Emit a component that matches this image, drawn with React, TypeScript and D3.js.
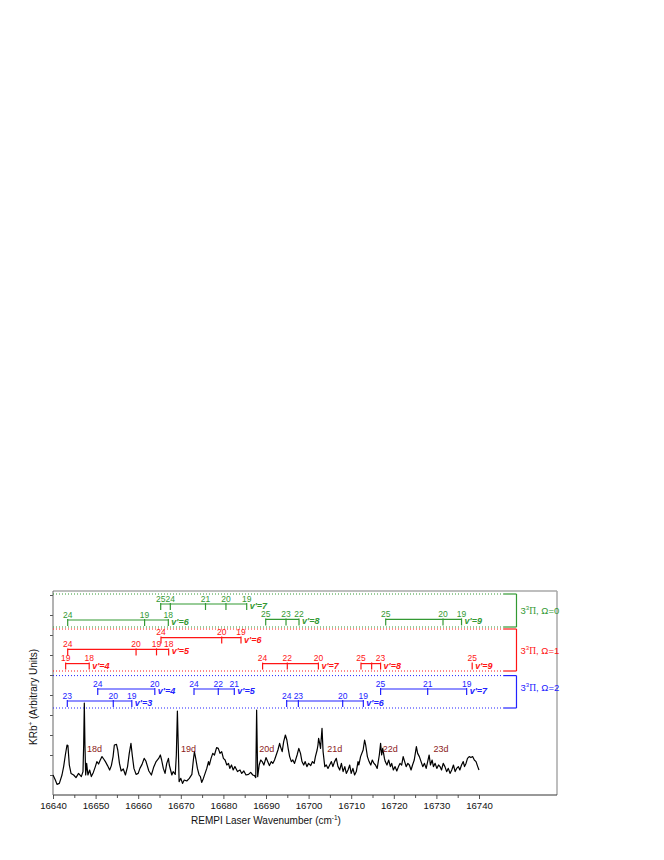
import React, { useRef, useEffect } from "react";
import { select, scaleLinear, line, axisBottom, axisLeft } from "d3";

const FONT = "Arial, 'Liberation Sans', sans-serif";

// axis ticks
const xMinorTicks = [16645, 16655, 16665, 16675, 16685, 16695, 16705, 16715, 16725, 16735];
const xMajorTicks = [16640, 16650, 16660, 16670, 16680, 16690, 16700, 16710, 16720, 16730, 16740];
const yTicks = [1, 2, 3, 4, 5, 6, 7, 8, 9, 10];

// REMPI trace: [wavenumber, signal]
const spectrum: [number, number][] = [
  [16640.0, 1.0], [16640.55, 0.75], [16640.94, 0.53], [16641.49, 0.58], [16642.11, 1.0], [16642.5, 1.42], [16642.9, 2.0], [16643.29, 2.5], [16643.5, 2.47], [16643.83, 1.5],
  [16644.23, 1.08], [16644.85, 1.0], [16645.4, 0.87], [16646.0, 1.08], [16646.65, 0.92], [16647.04, 1.17], [16647.2, 2.5], [16647.35, 4.6], [16647.5, 2.5], [16647.67, 1.0],
  [16647.9, 1.58], [16648.2, 1.0], [16648.6, 1.25], [16649.0, 0.92], [16649.47, 1.13], [16649.94, 1.42], [16650.3, 1.67], [16650.7, 1.55], [16651.1, 1.75], [16651.5, 1.92],
  [16651.9, 1.8], [16652.3, 1.67], [16652.8, 1.47], [16653.3, 1.25], [16653.7, 1.47], [16654.1, 1.92], [16654.4, 2.5], [16654.9, 2.53], [16655.2, 2.25], [16655.6, 1.58],
  [16656.0, 1.2], [16656.5, 1.3], [16657.0, 1.0], [16657.5, 1.42], [16657.9, 2.08], [16658.3, 2.58], [16658.6, 2.0], [16659.0, 1.33], [16659.5, 1.03], [16660.0, 1.08],
  [16660.4, 1.33], [16660.9, 1.53], [16661.4, 1.83], [16661.8, 1.7], [16662.5, 1.2], [16663.1, 1.0], [16663.6, 1.37], [16664.2, 1.67], [16664.8, 1.83], [16665.2, 2.0],
  [16665.5, 1.75], [16665.9, 1.33], [16666.3, 1.08], [16666.7, 1.58], [16667.1, 1.83], [16667.3, 1.5], [16667.9, 1.0], [16668.2, 1.17], [16668.7, 1.03], [16668.95, 2.0],
  [16669.2, 4.2], [16669.4, 2.5], [16669.6, 0.67], [16670.0, 0.83], [16670.4, 0.58], [16670.8, 0.75], [16671.4, 0.7], [16672.0, 0.83], [16672.6, 1.03], [16672.95, 1.75],
  [16673.2, 2.17], [16673.5, 1.83], [16673.9, 1.33], [16674.3, 1.0], [16674.6, 0.92], [16674.9, 0.63], [16675.3, 0.83], [16675.7, 1.08], [16676.1, 1.33], [16676.5, 1.67],
  [16676.7, 1.5], [16677.1, 1.83], [16677.5, 2.08], [16677.9, 2.0], [16678.4, 2.37], [16678.8, 2.33], [16679.2, 2.08], [16679.6, 2.17], [16680.0, 1.83], [16680.4, 1.75],
  [16680.8, 1.5], [16681.2, 1.58], [16681.5, 1.33], [16681.9, 1.5], [16682.3, 1.25], [16682.7, 1.42], [16683.3, 1.17], [16683.9, 1.25], [16684.3, 1.08], [16684.8, 1.2],
  [16685.3, 1.0], [16685.9, 1.03], [16686.4, 1.13], [16686.9, 1.0], [16687.3, 0.97], [16687.6, 0.87], [16687.8, 4.25], [16688.05, 0.92], [16688.4, 1.5], [16688.75, 1.75],
  [16689.1, 1.67], [16689.5, 1.5], [16690.0, 1.87], [16690.4, 1.67], [16690.8, 1.47],
  [16691.25, 1.67], [16691.6, 1.58], [16692.0, 1.75], [16692.4, 2.0], [16692.8, 2.25], [16693.2, 2.58], [16693.4, 2.42], [16693.8, 2.17], [16694.15, 2.67], [16694.55, 3.0],
  [16694.9, 2.75], [16695.2, 2.33], [16695.55, 1.92], [16695.95, 1.67], [16696.3, 1.75], [16696.7, 1.58], [16697.3, 2.0], [16697.7, 2.33], [16698.1, 2.08], [16698.45, 1.67],
  [16698.85, 1.5], [16699.2, 1.67], [16699.6, 1.42], [16700.0, 1.58], [16700.5, 1.47], [16700.9, 1.67], [16701.3, 1.58], [16701.6, 1.92], [16702.0, 2.25], [16702.2, 2.5],
  [16702.35, 2.83], [16702.6, 2.58], [16702.8, 2.33], [16703.15, 3.33], [16703.4, 2.17], [16703.8, 1.42], [16704.15, 1.5], [16704.55, 1.33], [16704.95, 1.5], [16705.35, 1.67],
  [16705.7, 1.42], [16706.1, 1.67], [16706.5, 1.83], [16706.9, 1.42], [16707.3, 1.25], [16707.7, 1.58], [16708.1, 1.17], [16708.5, 1.42], [16708.85, 1.08], [16709.25, 1.25],
  [16709.65, 1.5], [16710.0, 1.08], [16710.4, 1.33], [16710.8, 1.0], [16711.2, 1.17], [16711.6, 1.67], [16711.8, 1.5], [16712.2, 1.92], [16712.8, 2.25], [16713.15, 2.75],
  [16713.4, 2.5], [16713.8, 1.92], [16714.2, 1.67], [16714.6, 1.5], [16714.95, 1.75], [16715.35, 1.58], [16715.7, 1.5], [16716.1, 1.33],
  [16716.6, 2.0], [16716.9, 2.58], [16717.15, 2.0], [16717.4, 2.33], [16717.8, 1.83], [16718.0, 1.67], [16718.4, 1.5], [16718.8, 1.75], [16719.2, 1.42], [16719.5, 1.58],
  [16719.9, 1.25], [16720.3, 1.42], [16720.7, 1.2], [16721.1, 1.42], [16721.45, 1.58], [16721.85, 1.5], [16722.2, 1.92], [16722.55, 1.67], [16722.9, 1.42], [16723.3, 1.58],
  [16723.65, 1.5], [16724.05, 1.25], [16724.4, 1.5], [16724.8, 1.75], [16725.05, 2.08], [16725.3, 2.42], [16725.6, 2.08], [16726.0, 1.92], [16726.4, 1.67], [16726.8, 1.42],
  [16727.2, 1.58], [16727.6, 1.33], [16727.95, 1.67], [16728.3, 2.0], [16728.6, 1.5], [16729.0, 1.75], [16729.3, 1.42], [16729.7, 1.58], [16730.1, 1.33], [16730.5, 1.5],
  [16730.85, 1.42], [16731.2, 1.25], [16731.6, 1.58], [16732.0, 1.42], [16732.4, 1.17], [16732.8, 1.33], [16733.2, 1.08], [16733.6, 1.25], [16734.0, 1.5], [16734.4, 1.17],
  [16734.75, 1.33], [16735.15, 1.42], [16735.5, 1.25], [16735.9, 1.5], [16736.3, 1.67], [16736.6, 1.42], [16736.95, 1.58], [16737.3, 1.83], [16737.7, 1.92], [16738.1, 1.87],
  [16738.5, 1.92], [16738.9, 1.75], [16739.3, 1.67], [16739.7, 1.42], [16740.0, 1.25],
];

// atomic / dimer line labels
const dimerLabels = ["18d", "19d", "20d", "21d", "22d", "23d"];
const dimerWn = [16648.0, 16670.05, 16688.4, 16704.4, 16717.4, 16729.3];
const dimerLevel = 2.15;

// electronic state groups
const groupOmega = [0, 1, 2];
const groupColors = ["#339933", "#ff1414", "#2222ff"];
const groupTop = [10.05, 8.3, 5.97];
const groupBottom = [8.4, 6.2, 4.35];
const groupLabelLevel = [9.25, 7.25, 5.4];
const dottedEnd = 16745.7;
const bracketWn = 16748.8;

// vibrational progressions (v', level, line positions, lower-level labels)
const omega0Bands = [
  { v: 6, level: 8.75, wn: [16643.45, 16661.5, 16667.07], labels: ["24", "19", "18"] },
  { v: 7, level: 9.55, wn: [16665.28, 16667.54, 16675.8, 16680.6, 16685.47], labels: ["25", "24", "21", "20", "19"] },
  { v: 8, level: 8.78, wn: [16689.93, 16694.7, 16697.75], labels: ["25", "23", "22"] },
  { v: 9, level: 8.78, wn: [16718.1, 16731.55, 16735.9], labels: ["25", "20", "19"] },
];
const omega1Bands = [
  { v: 4, level: 6.57, wn: [16642.97, 16648.5], labels: ["19", "18"] },
  { v: 5, level: 7.28, wn: [16643.45, 16659.5, 16664.3, 16667.15], labels: ["24", "20", "19", "18"] },
  { v: 6, level: 7.87, wn: [16665.35, 16679.6, 16684.13], labels: ["24", "20", "19"] },
  { v: 7, level: 6.57, wn: [16689.2, 16695.0, 16702.3], labels: ["24", "22", "20"] },
  { v: 8, level: 6.57, wn: [16712.3, 16714.8, 16716.9], labels: ["25", "", "23"] },
  { v: 9, level: 6.57, wn: [16738.4], labels: ["25"] },
];
const omega2Bands = [
  { v: 3, level: 4.7, wn: [16643.36, 16654.15, 16658.5], labels: ["23", "20", "19"] },
  { v: 4, level: 5.3, wn: [16650.5, 16663.9], labels: ["24", "20"] },
  { v: 5, level: 5.3, wn: [16673.1, 16678.8, 16682.56], labels: ["24", "22", "21"] },
  { v: 6, level: 4.7, wn: [16694.85, 16697.6, 16708.0, 16712.85], labels: ["24", "23", "20", "19"] },
  { v: 7, level: 5.3, wn: [16716.9, 16727.95, 16737.1], labels: ["25", "21", "19"] },
];
const groupBands = [omega0Bands, omega1Bands, omega2Bands];

function RempiChart() {
  const svgRef = useRef<SVGSVGElement>(null);

  useEffect(() => {
    const svg = select(svgRef.current);
    svg.selectAll("*").remove();

    const left = 53;
    const right = 557;
    const top = 591;
    const bottom = 795;

    const xScale = scaleLinear().domain([16640, 16740]).range([left, 479]);
    const yScale = scaleLinear().domain([0, 10.2]).range([bottom, top]);

    // frame
    svg.append("line").attr("x1", left).attr("x2", right).attr("y1", top).attr("y2", top)
      .attr("stroke", "#a8a8a8").attr("stroke-width", 1.5);
    svg.append("line").attr("x1", right).attr("x2", right).attr("y1", top).attr("y2", bottom)
      .attr("stroke", "#a8a8a8").attr("stroke-width", 1.5);

    // axes
    const xMinor = svg.append("g").attr("transform", `translate(0, ${bottom})`)
      .call(axisBottom(xScale).tickValues(xMinorTicks).tickSize(3).tickSizeOuter(0).tickFormat(() => ""));
    const xMajor = svg.append("g").attr("transform", `translate(0, ${bottom})`)
      .call(axisBottom(xScale).tickValues(xMajorTicks).tickSize(4).tickSizeOuter(0).tickFormat((d) => String(d)));
    const yAx = svg.append("g").attr("transform", `translate(${left}, 0)`)
      .call(axisLeft(yScale).tickValues(yTicks).tickSize(3).tickSizeOuter(0).tickFormat(() => ""));
    [xMinor, xMajor, yAx].forEach((g) => {
      g.select(".domain").remove();
      g.selectAll(".tick line").attr("stroke", "#555");
    });
    xMajor.selectAll(".tick text").attr("font-family", FONT).attr("font-size", 9.6).attr("fill", "#111");

    svg.append("line").attr("x1", left).attr("x2", right).attr("y1", bottom).attr("y2", bottom)
      .attr("stroke", "#333").attr("stroke-width", 1);
    svg.append("line").attr("x1", left).attr("x2", left).attr("y1", top).attr("y2", bottom)
      .attr("stroke", "#666").attr("stroke-width", 1);

    // axis titles
    const xt = svg.append("text").attr("x", (xScale(16640) + xScale(16740)) / 2).attr("y", 824)
      .attr("text-anchor", "middle").attr("font-family", FONT).attr("font-size", 10).attr("fill", "#111");
    xt.append("tspan").text("REMPI Laser Wavenumber (cm");
    xt.append("tspan").attr("dy", -4).attr("font-size", 6.5).text("-1");
    xt.append("tspan").attr("dy", 4).text(")");

    const yt = svg.append("text").attr("transform", `translate(37, 697) rotate(-90)`)
      .attr("text-anchor", "middle").attr("font-family", FONT).attr("font-size", 10).attr("fill", "#111");
    yt.append("tspan").text("KRb");
    yt.append("tspan").attr("dy", -4).attr("font-size", 6.5).text("+");
    yt.append("tspan").attr("dy", 4).text(" (Arbitrary Units)");

    // spectrum
    const lineGenerator = line<[number, number]>()
      .x((d) => xScale(d[0]))
      .y((d) => yScale(d[1]));
    svg.append("path").datum(spectrum).attr("d", lineGenerator)
      .attr("fill", "none").attr("stroke", "#000").attr("stroke-width", 1.2).attr("stroke-linejoin", "round");

    // dimer labels
    svg.selectAll(".dimer").data(dimerLabels).join("text").attr("class", "dimer")
      .attr("x", (d, i) => xScale(dimerWn[i])).attr("y", yScale(dimerLevel))
      .attr("font-family", FONT).attr("font-size", 9).attr("fill", "#8b1a1a").text((d) => d);

    // state groups
    groupOmega.forEach((omega, gi) => {
      const color = groupColors[gi];
      const g = svg.append("g");
      [groupTop[gi], groupBottom[gi]].forEach((lv) => {
        g.append("line").attr("x1", xScale(16640)).attr("x2", xScale(dottedEnd))
          .attr("y1", yScale(lv)).attr("y2", yScale(lv))
          .attr("stroke", color).attr("stroke-width", 1).attr("stroke-dasharray", "1,2");
        g.append("line").attr("x1", xScale(dottedEnd)).attr("x2", xScale(bracketWn))
          .attr("y1", yScale(lv)).attr("y2", yScale(lv))
          .attr("stroke", color).attr("stroke-width", 1.2);
      });
      g.append("line").attr("x1", xScale(bracketWn)).attr("x2", xScale(bracketWn))
        .attr("y1", yScale(groupTop[gi])).attr("y2", yScale(groupBottom[gi]))
        .attr("stroke", color).attr("stroke-width", 1.2);
      const lbl = g.append("text").attr("x", xScale(bracketWn) + 4).attr("y", yScale(groupLabelLevel[gi]) + 3.5)
        .attr("font-family", FONT).attr("font-size", 9.5).attr("fill", color);
      lbl.append("tspan").text("3");
      lbl.append("tspan").attr("dy", -3.5).attr("font-size", 6).text("3");
      lbl.append("tspan").attr("dy", 3.5).attr("font-family", "'Liberation Serif', serif").text("Π");
      lbl.append("tspan").text(`, Ω=${omega}`);

      groupBands[gi].forEach((band) => {
        const y0 = yScale(band.level);
        const xs = band.wn.map((w) => xScale(w));
        if (xs.length > 1) {
          g.append("line").attr("x1", xs[0]).attr("x2", xs[xs.length - 1]).attr("y1", y0).attr("y2", y0)
            .attr("stroke", color).attr("stroke-width", 1.2);
        }
        g.selectAll(null).data(xs).join("line")
          .attr("x1", (d) => d).attr("x2", (d) => d).attr("y1", y0 - 1).attr("y2", y0 + 6)
          .attr("stroke", color).attr("stroke-width", 1.2);
        g.selectAll(null).data(band.labels).join("text")
          .attr("x", (d, i) => xs[i]).attr("y", y0 - 2.5).attr("text-anchor", "middle")
          .attr("font-family", FONT).attr("font-size", 8.5).attr("fill", color).text((d) => d);
        g.append("text").attr("x", xs[xs.length - 1] + 3).attr("y", y0 + 5)
          .attr("font-family", FONT).attr("font-size", 9).attr("font-weight", "bold").attr("font-style", "italic")
          .attr("fill", color).text(`v'=${band.v}`);
      });
    });
  }, []);

  return <svg ref={svgRef} width={664} height={860} style={{ position: "absolute", left: 0, top: 0 }} />;
}

export default function App() {
  return (
    <div>
      <RempiChart />
    </div>
  );
}
